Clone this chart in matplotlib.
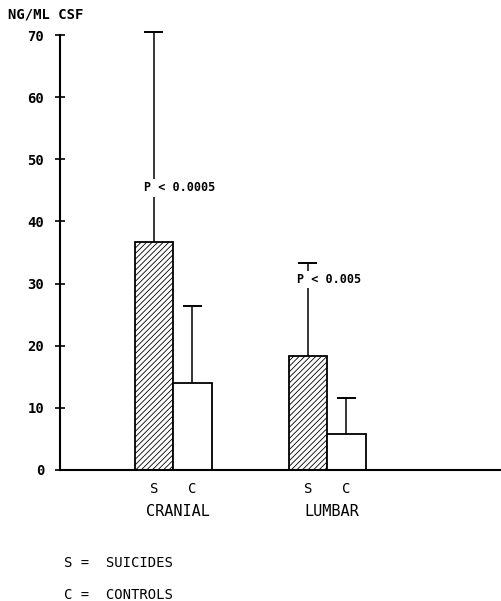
import numpy as np
import matplotlib
matplotlib.use('Agg')
import matplotlib.pyplot as plt

# values (ng/ml CSF)
groups = ['CRANIAL', 'LUMBAR']
suicides = [36.7, 18.4]
suicides_sd = [33.8, 14.9]
controls = [14.0, 5.8]
controls_sd = [12.4, 5.8]
p_labels = ['P < 0.0005', 'P < 0.005']
yticks = [0, 10, 20, 30, 40, 50, 60, 70]

plt.rcParams['font.family'] = ['DejaVu Sans Mono']
plt.rcParams['hatch.linewidth'] = 0.6

fig = plt.figure(figsize=(5.02, 6.01), dpi=100)
ax = fig.add_axes([0.1195, 0.218, 0.8805, 0.734])

x = np.arange(1, len(groups) + 1)
w = 0.25
cap = 0.062

ax.bar(x - w / 2, suicides, w, facecolor='white', edgecolor='black',
       linewidth=1.3, hatch='//////', zorder=2)
ax.bar(x + w / 2, controls, w, facecolor='white', edgecolor='black',
       linewidth=1.3, zorder=2)

# error bars (upper only)
for xs, vals, sds in [(x - w / 2, suicides, suicides_sd),
                      (x + w / 2, controls, controls_sd)]:
    for xi, v, s in zip(xs, vals, sds):
        ax.vlines(xi, v, v + s, color='black', linewidth=1.1, zorder=1)
        ax.hlines(v + s, xi - cap, xi + cap, color='black', linewidth=1.4)

# p-value labels sitting on the suicide error bars
p_y = [45.4, 30.6]
p_x = [1.045, 2.01]
for px, py, lab in zip(p_x, p_y, p_labels):
    ax.text(px, py, lab, ha='center', va='center', fontsize=8.5,
            fontweight='bold', zorder=3,
            bbox=dict(facecolor='white', edgecolor='none', pad=1.5))

ax.set_xlim(0.266, 3.136)
ax.set_ylim(0, 71)
ax.spines['top'].set_visible(False)
ax.spines['right'].set_visible(False)
ax.spines['left'].set_bounds(0, 70)
ax.spines['left'].set_linewidth(1.5)
ax.spines['bottom'].set_linewidth(1.5)

ax.set_yticks(yticks)
ax.set_yticklabels([str(t) for t in yticks], fontsize=10, fontweight='bold')
ax.tick_params(axis='y', direction='inout', length=7, width=1.2, pad=8)

ax.set_xticks(list(x - w / 2) + list(x + w / 2))
ax.set_xticklabels(['S'] * len(groups) + ['C'] * len(groups), fontsize=10)
ax.tick_params(axis='x', length=0, pad=9)

for xi, g in zip(x, groups):
    ax.annotate(g, (xi + 0.03, 0), xytext=(0, -30), textcoords='offset points',
                ha='center', va='center', fontsize=11)

ax.text(-0.118, 1.032, 'NG/ML CSF', transform=ax.transAxes, fontsize=10,
        fontweight='bold', ha='left', va='center')

fig.text(0.127, 0.063, 'S =  SUICIDES', fontsize=10, ha='left', va='center')
fig.text(0.127, 0.010, 'C =  CONTROLS', fontsize=10, ha='left', va='center')

fig.savefig('out.png', dpi=100)
